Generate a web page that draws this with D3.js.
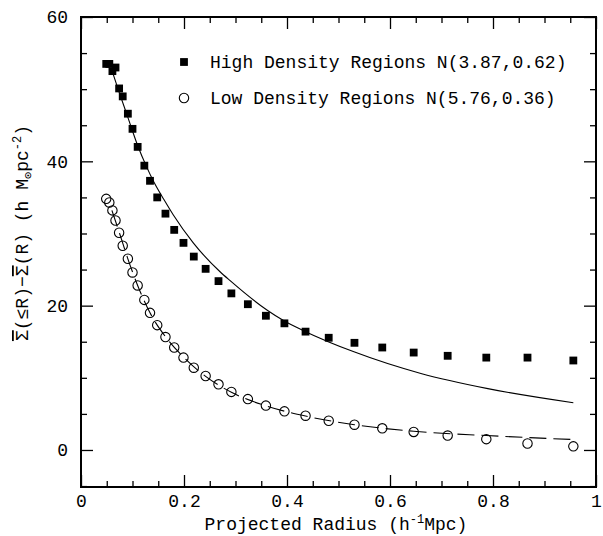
<!DOCTYPE html>
<html>
<head>
<meta charset="utf-8">
<script src="https://cdn.jsdelivr.net/npm/d3@7"></script>
<style>
  html, body { margin: 0; padding: 0; background: #fff; }
  svg text { font-family: "Liberation Mono", "DejaVu Sans Mono", monospace; fill: #000; }
</style>
</head>
<body>
<svg id="chart" width="603" height="536"></svg>
<script>
// Projected radii shared by both samples (h^-1 Mpc)
const radius = [0.049, 0.055, 0.061, 0.067, 0.074, 0.081, 0.091, 0.100, 0.110, 0.123,
                0.134, 0.148, 0.164, 0.181, 0.199, 0.219, 0.242, 0.267, 0.292, 0.324,
                0.359, 0.395, 0.436, 0.481, 0.531, 0.585, 0.646, 0.712, 0.787, 0.867, 0.956];

// Measured excess surface density, high density regions
const highDensity = [53.5, 53.5, 52.5, 53.0, 50.1, 49.0, 46.6, 44.5, 42.0, 39.4,
                     37.3, 35.0, 32.75, 30.5, 28.7, 26.8, 25.1, 23.4, 21.7, 20.2,
                     18.6, 17.55, 16.4, 15.55, 14.85, 14.2, 13.5, 13.05, 12.8, 12.8, 12.4];

// Measured excess surface density, low density regions
const lowDensity = [34.8, 34.3, 33.2, 31.8, 30.1, 28.3, 26.5, 24.6, 22.8, 20.8,
                    19.0, 17.3, 15.65, 14.2, 12.8, 11.4, 10.25, 9.1, 8.05, 7.05,
                    6.15, 5.35, 4.75, 4.05, 3.5, 3.0, 2.5, 2.0, 1.5, 0.9, 0.5];

// Model curve N(3.87,0.62) for the high density sample
const highFitR = [0.060, 0.074, 0.091, 0.110, 0.127, 0.141, 0.161, 0.179, 0.218, 0.270,
                  0.289, 0.361, 0.394, 0.433, 0.530, 0.660, 0.790, 0.956];
const highFitV = [52.6, 49.6, 46.1, 42.2, 39.3, 37.2, 34.7, 32.6, 28.7, 24.7,
                  23.5, 19.4, 17.9, 16.5, 13.6, 10.6, 8.5, 6.55];

// Model curve N(5.76,0.36) for the low density sample
const lowFitR = [0.060, 0.075, 0.090, 0.110, 0.134, 0.165, 0.200, 0.242, 0.292, 0.360,
                 0.436, 0.531, 0.646, 0.787, 0.956];
const lowFitV = [33.2, 30.0, 26.7, 22.8, 19.0, 15.6, 12.8, 10.2, 8.0, 6.1,
                 4.7, 3.5, 2.6, 2.0, 1.45];

// Axis ticks
const xMajor = [0, 0.2, 0.4, 0.6, 0.8, 1];
const xMajorLabels = ["0", "0.2", "0.4", "0.6", "0.8", "1"];
const xMinor = [0.05, 0.1, 0.15, 0.25, 0.3, 0.35, 0.45, 0.5, 0.55, 0.65, 0.7, 0.75, 0.85, 0.9, 0.95];
const yMajor = [0, 20, 40, 60];
const yMajorLabels = ["0", "20", "40", "60"];
const yMinor = [-5, 5, 10, 15, 25, 30, 35, 45, 50, 55];

// Legend entries
const legendLabels = ["High Density Regions N(3.87,0.62)", "Low Density Regions N(5.76,0.36)"];

const svg = d3.select("#chart");
const plotL = 81, plotR = 596, plotT = 17, plotB = 487;

const x = d3.scaleLinear().domain([0, 1]).range([plotL, plotR]);
const y = d3.scaleLinear().domain([-5.13, 60]).range([plotB, plotT]);

const fontSize = 18;
const majorLen = 12, minorLen = 6;

function styleAxis(g) {
  g.select(".domain").remove();
  g.selectAll(".tick line").attr("stroke", "#000").attr("stroke-width", 1.3);
}

// Bottom axis with labels
svg.append("g").attr("transform", `translate(0,${plotB})`)
  .call(d3.axisBottom(x).tickValues(xMajor).tickSize(-majorLen)
    .tickFormat((d, i) => xMajorLabels[i]).tickPadding(7))
  .call(styleAxis)
  .call(g => g.selectAll("text").attr("font-size", fontSize)
    .style("font-family", "Liberation Mono"));
svg.append("g").attr("transform", `translate(0,${plotB})`)
  .call(d3.axisBottom(x).tickValues(xMinor).tickSize(-minorLen).tickFormat(""))
  .call(styleAxis);

// Top axis, ticks only
svg.append("g").attr("transform", `translate(0,${plotT})`)
  .call(d3.axisTop(x).tickValues(xMajor).tickSize(-majorLen).tickFormat(""))
  .call(styleAxis);
svg.append("g").attr("transform", `translate(0,${plotT})`)
  .call(d3.axisTop(x).tickValues(xMinor).tickSize(-minorLen).tickFormat(""))
  .call(styleAxis);

// Left axis with labels
svg.append("g").attr("transform", `translate(${plotL},0)`)
  .call(d3.axisLeft(y).tickValues(yMajor).tickSize(-majorLen)
    .tickFormat((d, i) => yMajorLabels[i]).tickPadding(13))
  .call(styleAxis)
  .call(g => g.selectAll("text").attr("font-size", fontSize)
    .style("font-family", "Liberation Mono"));
svg.append("g").attr("transform", `translate(${plotL},0)`)
  .call(d3.axisLeft(y).tickValues(yMinor).tickSize(-minorLen).tickFormat(""))
  .call(styleAxis);

// Right axis, ticks only
svg.append("g").attr("transform", `translate(${plotR},0)`)
  .call(d3.axisRight(y).tickValues(yMajor).tickSize(-majorLen).tickFormat(""))
  .call(styleAxis);
svg.append("g").attr("transform", `translate(${plotR},0)`)
  .call(d3.axisRight(y).tickValues(yMinor).tickSize(-minorLen).tickFormat(""))
  .call(styleAxis);

// Frame
svg.append("rect")
  .attr("x", plotL).attr("y", plotT)
  .attr("width", plotR - plotL).attr("height", plotB - plotT)
  .attr("fill", "none").attr("stroke", "#000").attr("stroke-width", 2);

// Fit curves
const line = d3.line().x(d => x(d[0])).y(d => y(d[1])).curve(d3.curveMonotoneX);

svg.append("path")
  .datum(highFitR.map((r, i) => [r, highFitV[i]]))
  .attr("d", line)
  .attr("fill", "none").attr("stroke", "#000").attr("stroke-width", 1.1);

svg.append("path")
  .datum(lowFitR.map((r, i) => [r, lowFitV[i]]))
  .attr("d", line)
  .attr("fill", "none").attr("stroke", "#000").attr("stroke-width", 1.1)
  .attr("stroke-dasharray", "17,7");

// Data points
const sq = 7.8;
svg.append("g").selectAll("rect")
  .data(radius.map((r, i) => [r, highDensity[i]]))
  .join("rect")
  .attr("x", d => x(d[0]) - sq / 2)
  .attr("y", d => y(d[1]) - sq / 2)
  .attr("width", sq).attr("height", sq)
  .attr("fill", "#000");

svg.append("g").selectAll("circle")
  .data(radius.map((r, i) => [r, lowDensity[i]]))
  .join("circle")
  .attr("cx", d => x(d[0]))
  .attr("cy", d => y(d[1]))
  .attr("r", 4.7)
  .attr("fill", "none").attr("stroke", "#000").attr("stroke-width", 1.1);

// Legend
const legend = svg.append("g");
legend.append("rect")
  .attr("x", 184 - sq / 2).attr("y", 62 - sq / 2)
  .attr("width", sq).attr("height", sq).attr("fill", "#000");
legend.append("circle")
  .attr("cx", 184).attr("cy", 98).attr("r", 4.7)
  .attr("fill", "none").attr("stroke", "#000").attr("stroke-width", 1.1);
legend.selectAll("text.leg")
  .data(legendLabels)
  .join("text")
  .attr("class", "leg")
  .attr("x", 210)
  .attr("y", (d, i) => 68 + i * 36)
  .attr("font-size", fontSize)
  .text(d => d);

// Axis titles
svg.append("text")
  .attr("x", 336)
  .attr("y", 530)
  .attr("text-anchor", "middle")
  .attr("font-size", fontSize)
  .call(t => {
    t.append("tspan").text("Projected Radius (h");
    t.append("tspan").attr("font-size", 12).attr("dy", -7).text("-1");
    t.append("tspan").attr("dy", 7).text("Mpc)");
  });

const yTitle = svg.append("text")
  .attr("transform", "translate(28,233) rotate(-90)")
  .attr("text-anchor", "middle")
  .attr("font-size", fontSize);
yTitle.append("tspan").attr("text-decoration", "overline").text("Σ");
yTitle.append("tspan").text("(≤R)−");
yTitle.append("tspan").attr("text-decoration", "overline").text("Σ");
yTitle.append("tspan").text("(R) (h M");
yTitle.append("tspan").attr("font-size", 12).attr("dy", 4).text("⊙");
yTitle.append("tspan").attr("dy", -4).text("pc");
yTitle.append("tspan").attr("font-size", 12).attr("dy", -7).text("-2");
yTitle.append("tspan").attr("dy", 7).text(")");
</script>
</body>
</html>
